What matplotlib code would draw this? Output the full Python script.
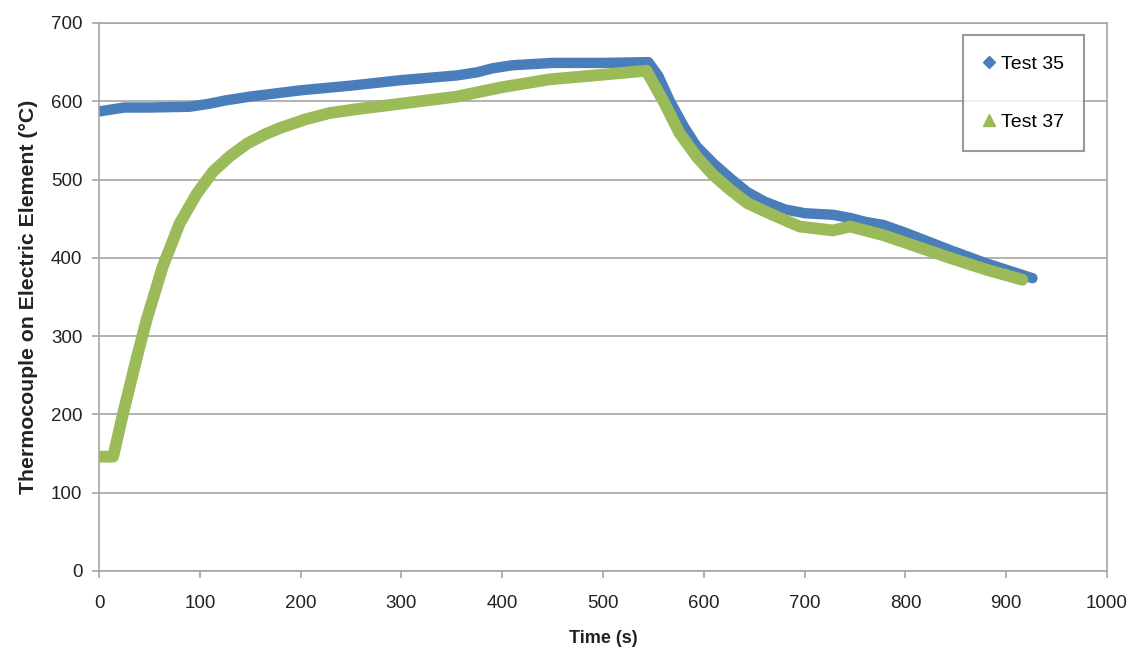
import matplotlib
matplotlib.use("Agg")
from matplotlib import pyplot as plt

# Test 35 (blue) - time (s), temperature (C)
time_35 = [0, 10, 25, 50, 90, 110, 125, 150, 200, 250, 300, 355, 375, 390, 410,
           450, 500, 545, 555, 566, 580, 593, 610, 626, 643, 660, 680, 700, 728,
           745, 760, 778, 800, 844, 880, 926]
temp_35 = [587, 589, 592, 592, 593, 597, 601, 606, 614, 620, 627, 633, 637, 642, 646,
           649, 649, 650, 632, 601, 568, 542, 520, 502, 484, 472, 462, 457, 455,
           451, 446, 442, 432, 410, 393, 374]

# Test 37 (green)
time_37 = [0, 14, 24, 37, 47, 63, 80, 97, 113, 130, 147, 165, 180, 205, 229, 256, 300,
           355, 400, 447, 500, 543, 560, 576, 593, 609, 626, 643, 663, 695, 728, 745,
           778, 844, 880, 916]
temp_37 = [146, 146, 202, 270, 320, 388, 444, 482, 510, 530, 546, 558, 566, 577, 585,
           590, 597, 606, 618, 628, 634, 639, 600, 559, 529, 506, 487, 470, 458, 440,
           435, 440, 429, 400, 385, 372]

labels = ["Test 35", "Test 37"]
x_ticks = list(range(0, 1001, 100))
y_ticks = list(range(0, 701, 100))

plt.rcParams["font.family"] = ["Liberation Sans", "DejaVu Sans"]

blue = "#4A7EBB"
green = "#9BBB59"
grey = "#A6A6A6"

fig = plt.figure(figsize=(11.42, 6.51), dpi=100)
ax = fig.add_axes([0.0867, 0.1229, 0.8827, 0.8418])

ax.plot(time_35, temp_35, color=blue, lw=7.5, solid_joinstyle="round", solid_capstyle="round")
ax.plot(time_37, temp_37, color=green, lw=8.5, solid_joinstyle="round", solid_capstyle="round")

ax.set_xlim(0, 1000)
ax.set_ylim(0, 700)
ax.set_xticks(x_ticks)
ax.set_yticks(y_ticks)
ax.yaxis.grid(True, color=grey, lw=1.2)
ax.set_axisbelow(True)
for s in ax.spines.values():
    s.set_color(grey)
    s.set_linewidth(1.2)
ax.tick_params(axis="both", colors=grey, length=5, width=1.2, labelcolor="#222222",
               labelsize=13.5)
ax.tick_params(axis="x", pad=12)
ax.tick_params(axis="y", pad=7)

ax.set_xlabel("Time (s)", fontsize=13, fontweight="bold", color="#222222", labelpad=13)
ax.set_ylabel("Thermocouple on Electric Element (\u00b0C)", fontsize=15.3,
              fontweight="bold", color="#222222", labelpad=9)

handles = [
    plt.Line2D([], [], ls="none", marker="D", ms=6, color=blue),
    plt.Line2D([], [], ls="none", marker="^", ms=8, color=green),
]
leg = ax.legend(handles, labels, loc="upper left", bbox_to_anchor=(0.857, 0.978),
                fontsize=14, frameon=True, fancybox=False, labelspacing=2.05,
                handlelength=0.6, handletextpad=0.3, borderpad=1.05, borderaxespad=0)
leg.get_frame().set_edgecolor("#808080")
leg.get_frame().set_linewidth(1.5)

plt.savefig("out.png", dpi=100)
